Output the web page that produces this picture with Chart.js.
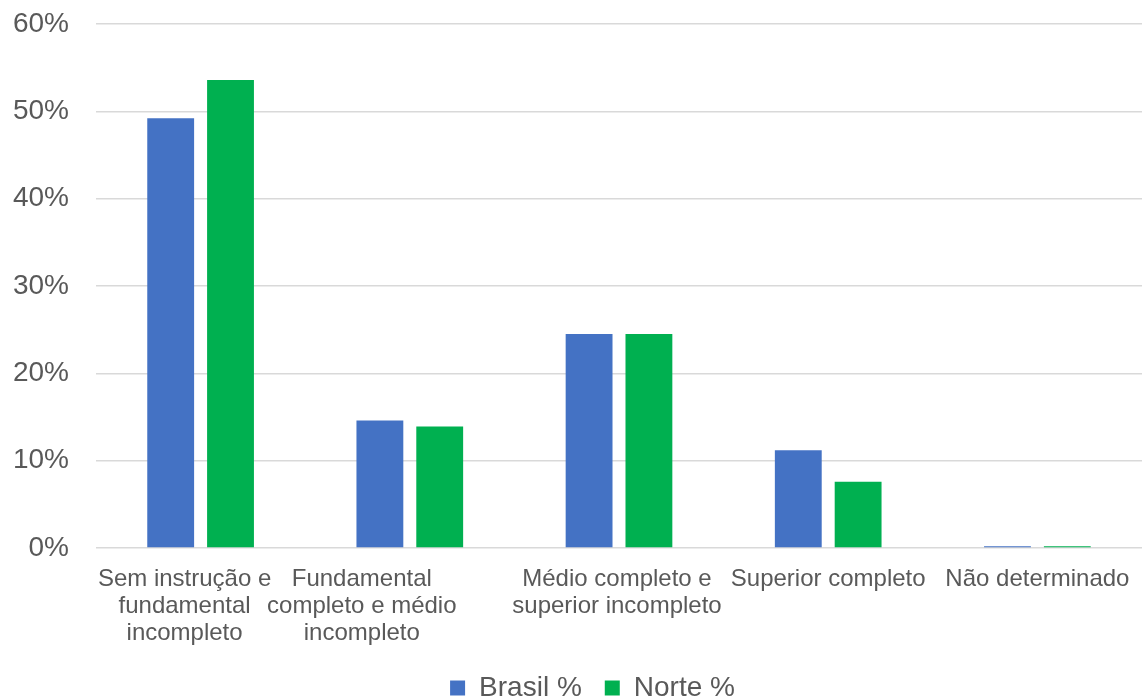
<!DOCTYPE html>
<html lang="pt">
<head>
<meta charset="utf-8">
<title>Escolaridade – Brasil e Norte</title>
<script src="https://cdn.jsdelivr.net/npm/chart.js@4.4.1/dist/chart.umd.min.js"></script>
<style>
  html, body { margin: 0; padding: 0; background: #ffffff; }
  #wrap { width: 1142px; height: 698px; }
</style>
</head>
<body>
<div id="wrap"><canvas id="chart" width="1142" height="698"></canvas></div>
<script>
// Nível de instrução (categorias, quebradas em linhas)
const categories = [
  ['Sem instrução e', 'fundamental', 'incompleto'],
  ['Fundamental', 'completo e médio', 'incompleto'],
  ['Médio completo e', 'superior incompleto'],
  'Superior completo',
  'Não determinado'
];

// Percentuais por região
const brasil = [49.2, 14.6, 24.5, 11.2, 0.2];
const norte  = [53.6, 13.9, 24.5, 7.6, 0.2];

// Eixo Y
const yTicks = [0, 10, 20, 30, 40, 50, 60];

const seriesNames = ['Brasil %', 'Norte %'];

// Deslocamento horizontal de cada rótulo de categoria
const labelShift = [-16, -48, -2, 0, 0];
// Deslocamento horizontal da legenda
const legendShift = 43;

const textColor = '#595959';
const gridColor = '#d9d9d9';
const fontFamily = '"Liberation Sans", Arial, sans-serif';

const adjustPlacement = {
  id: 'adjustPlacement',
  afterLayout(chart) {
    chart.legend.left += legendShift;
    const items = chart.scales.x.getLabelItems();
    items.forEach((item, i) => {
      if (!item._shifted) {
        item.options.translation[0] += labelShift[i] || 0;
        item._shifted = true;
      }
    });
  }
};

new Chart(document.getElementById('chart'), {
  type: 'bar',
  data: {
    labels: categories,
    datasets: [
      {
        label: seriesNames[0],
        data: brasil,
        backgroundColor: '#4472c4',
        categoryPercentage: 0.572,
        barPercentage: 0.783
      },
      {
        label: seriesNames[1],
        data: norte,
        backgroundColor: '#00b050',
        categoryPercentage: 0.572,
        barPercentage: 0.783
      }
    ]
  },
  options: {
    responsive: false,
    animation: false,
    layout: { padding: { top: 24, left: 0, right: 0, bottom: -14 } },
    plugins: {
      legend: {
        position: 'bottom',
        labels: {
          boxWidth: 15,
          boxHeight: 15,
          padding: 23,
          color: textColor,
          font: { family: fontFamily, size: 28 }
        }
      },
      tooltip: { enabled: false }
    },
    scales: {
      x: {
        grid: { display: false },
        border: { display: false },
        ticks: {
          color: textColor,
          padding: 10,
          maxRotation: 0,
          autoSkip: false,
          font: { family: fontFamily, size: 24, lineHeight: 1.125 }
        },
        afterFit(scale) { scale.height = 103; }
      },
      y: {
        min: yTicks[0],
        max: yTicks[yTicks.length - 1],
        afterBuildTicks(scale) { scale.ticks = yTicks.map(v => ({ value: v })); },
        grid: {
          color: gridColor,
          lineWidth: 1.5,
          drawTicks: true,
          tickLength: 27,
          tickColor: 'rgba(0,0,0,0)'
        },
        border: { display: false },
        ticks: {
          color: textColor,
          padding: 0,
          font: { family: fontFamily, size: 28 },
          callback: v => v + '%'
        },
        afterFit(scale) { scale.width = 96; }
      }
    }
  },
  plugins: [adjustPlacement]
});
</script>
</body>
</html>
